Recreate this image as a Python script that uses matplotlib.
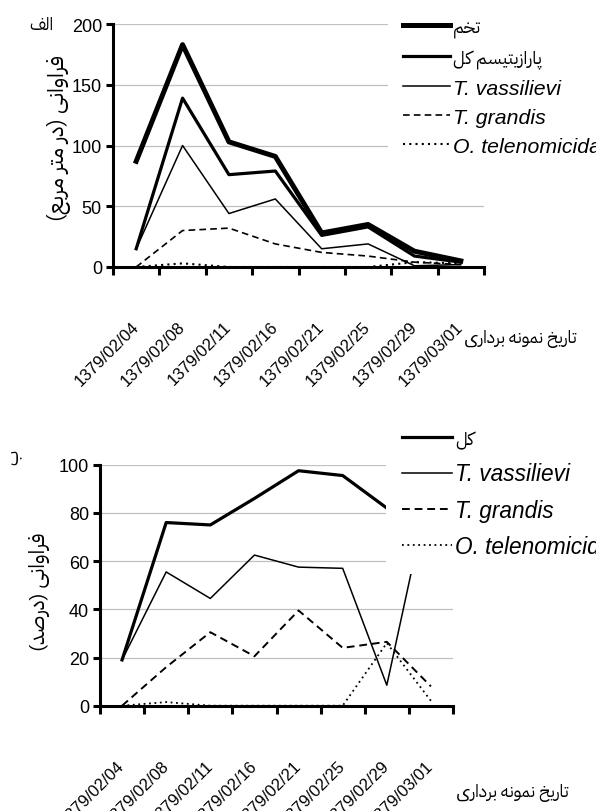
# two panel line chart: abundance per m2 and percent parasitism
import matplotlib
matplotlib.use('Agg')
import matplotlib.pyplot as plt
import numpy as np
from matplotlib import font_manager
from matplotlib.ft2font import FT2Font

# sampling dates
dates = ['1379/02/04', '1379/02/08', '1379/02/11', '1379/02/16',
         '1379/02/21', '1379/02/25', '1379/02/29', '1379/03/01']

# top panel, per square metre
egg = [87, 183, 103, 91, 28, 35, 13, 5]
para_total = [15, 139, 76, 79, 26, 33, 9, 4]
vass = [15, 100, 44, 56, 15, 19, 1, 2]
grandis = [0, 30, 32, 19, 12, 9, 4, 2]
teleno = [0, 3, 0, 0, 0, 0, 4, 3]

# bottom panel, percent
b_total = [19, 76, 75, 86, 97.5, 95.5, 82, 100]
b_vass = [19, 55.5, 44.5, 62.5, 57.5, 57, 8.5, 93]
b_grandis = [0, 16, 30.5, 20.5, 39.5, 24, 26.5, 8]
b_teleno = [0, 1.5, 0, 0, 0, 0, 26, 2]

# fonts: any arabic family first, dejavu has the basic arabic forms
arabic_fams = sorted({f.name for f in font_manager.fontManager.ttflist
                      if 'Arabic' in f.name or 'Naskh' in f.name})
PERSIAN = arabic_fams + ['DejaVu Sans']
LATIN = ['Liberation Sans', 'DejaVu Sans']
plt.rcParams['font.family'] = LATIN

cmap = set()
for fam in PERSIAN:
    path = font_manager.findfont(font_manager.FontProperties(family=fam))
    cmap |= set(FT2Font(path).get_charmap())

# matplotlib has no arabic shaping, so pick presentation forms by hand
# and put the letters in visual (right to left) order
FORMS = {
    'ا': ('\uFE8D', '\uFE8E'), 'د': ('\uFEA9', '\uFEAA'),
    'ر': ('\uFEAD', '\uFEAE'), 'ز': ('\uFEAF', '\uFEB0'),
    'و': ('\uFEED', '\uFEEE'),
    'ب': ('\uFE8F', '\uFE90', '\uFE91', '\uFE92'),
    'پ': ('\uFB56', '\uFB57', '\uFB58', '\uFB59'),
    'ت': ('\uFE95', '\uFE96', '\uFE97', '\uFE98'),
    'خ': ('\uFEA5', '\uFEA6', '\uFEA7', '\uFEA8'),
    'س': ('\uFEB1', '\uFEB2', '\uFEB3', '\uFEB4'),
    'ص': ('\uFEB9', '\uFEBA', '\uFEBB', '\uFEBC'),
    'ع': ('\uFEC9', '\uFECA', '\uFECB', '\uFECC'),
    'ف': ('\uFED1', '\uFED2', '\uFED3', '\uFED4'),
    'ک': ('\uFB8E', '\uFB8F', '\uFB90', '\uFB91'),
    'ل': ('\uFEDD', '\uFEDE', '\uFEDF', '\uFEE0'),
    'م': ('\uFEE1', '\uFEE2', '\uFEE3', '\uFEE4'),
    'ن': ('\uFEE5', '\uFEE6', '\uFEE7', '\uFEE8'),
    'ه': ('\uFEE9', '\uFEEA', '\uFEEB', '\uFEEC'),
    'ی': ('\uFBFC', '\uFBFD', '\uFBFE', '\uFBFF'),
}
# look-alike forms when the persian ones are missing from the font
SUB = {'\uFB56': '\u067E', '\uFB57': '\u067E', '\uFB58': '\u067E', '\uFB59': '\u067E',
       '\uFB8E': '\u06A9', '\uFB8F': '\u06A9', '\uFB90': '\uFEDB', '\uFB91': '\uFEDC',
       '\uFBFC': '\uFEEF', '\uFBFD': '\uFEF0', '\uFBFE': '\uFEF3', '\uFBFF': '\uFEF4'}


def fa(s):
    out = []
    for i, ch in enumerate(s):
        f = FORMS.get(ch)
        if f is None:
            out.append(ch)
            continue
        prev = s[i - 1] if i > 0 else ''
        nxt = s[i + 1] if i + 1 < len(s) else ''
        jp = prev in FORMS and len(FORMS[prev]) == 4
        jn = len(f) == 4 and nxt in FORMS
        g = f[{(0, 0): 0, (1, 0): 1, (0, 1): 2, (1, 1): 3}[(jp, jn)]]
        if ord(g) not in cmap:
            g = SUB.get(g, g)
        out.append(g)
    mirror = {'(': ')', ')': '('}
    return ''.join(mirror.get(c, c) for c in reversed(out))


W, H = 596, 812
fig = plt.figure(figsize=(W / 100, H / 100), dpi=100)

dash = (0, (4, 2.5))
dot = (0, (1, 2))


def style_axes(ax, ymax, ystep):
    x = np.arange(len(dates))
    ax.set_xlim(-0.5, len(dates) - 0.5)
    ax.set_ylim(0, ymax)
    ax.set_yticks(np.arange(0, ymax + 1, ystep))
    ax.set_xticks(np.arange(-0.5, len(dates)), labels=[])
    ax.set_xticks(x, labels=dates, minor=True)
    ax.tick_params(axis='x', which='major', direction='out', length=6, width=2.2)
    ax.tick_params(axis='x', which='minor', length=0, pad=41, labelsize=12)
    ax.tick_params(axis='y', direction='out', length=5, width=2.2, pad=3, labelsize=13)
    for lab in ax.get_xticklabels(minor=True):
        lab.set_rotation(45)
        lab.set_rotation_mode('anchor')
        lab.set_ha('right')
        lab.set_va('center')
    for s in ['top', 'right']:
        ax.spines[s].set_visible(False)
    for s in ['left', 'bottom']:
        ax.spines[s].set_linewidth(2.2)
    ax.yaxis.grid(True, color='#c0c0c0', linewidth=0.9)
    ax.set_axisbelow(True)
    return x


def add_legend(ax, left, top, labels_fa, size, spacing):
    leg = fig.legend(*ax.get_legend_handles_labels(), loc='upper left',
                     bbox_to_anchor=(left / W, 1 - top / H), frameon=True,
                     facecolor='white', edgecolor='none', framealpha=1,
                     fontsize=size, handlelength=2.2, handletextpad=0.15,
                     labelspacing=spacing, borderpad=0.7, borderaxespad=0)
    for t in leg.get_texts():
        if t.get_text() in labels_fa:
            t.set_fontfamily(PERSIAN)
            t.set_fontsize(13)
        else:
            t.set_fontstyle('italic')
    return leg


# top panel
ax1 = fig.add_axes([113 / W, 1 - 268 / H, 371 / W, 243 / H])
x = style_axes(ax1, 200, 50)
ax1.plot(x, egg, color='black', lw=3.6, label=fa('تخم'))
ax1.plot(x, para_total, color='black', lw=2.3, label=fa('پارازیتیسم کل'))
ax1.plot(x, vass, color='black', lw=1.1, label='T. vassilievi')
ax1.plot(x, grandis, color='black', lw=1.2, linestyle=dash, label='T. grandis')
ax1.plot(x, teleno, color='black', lw=1.5, linestyle=dot, label='O. telenomicida')
add_legend(ax1, 388, 4, [fa('تخم'), fa('پارازیتیسم کل')], 15.3, 0.47)

# bottom panel
ax2 = fig.add_axes([100 / W, 1 - 706.7 / H, 353 / W, 241 / H])
x = style_axes(ax2, 100, 20)
ax2.plot(x, b_total, color='black', lw=2.3, label=fa('کل'))
ax2.plot(x, b_vass, color='black', lw=1.1, label='T. vassilievi')
ax2.plot(x, b_grandis, color='black', lw=1.4, linestyle=dash, label='T. grandis')
ax2.plot(x, b_teleno, color='black', lw=1.3, linestyle=dot, label='O. telenomicida')
add_legend(ax2, 386, 414, [fa('کل')], 16.3, 0.58)

# persian captions
fig.text(41 / W, 1 - 25 / H, fa('الف'), family=PERSIAN, fontsize=12,
         ha='center', va='center')
fig.text(58 / W, 1 - 138 / H, fa('فراوانی (در متر مربع)'), family=PERSIAN,
         fontsize=16, rotation=90, ha='center', va='center')
fig.text(464 / W, 1 - 339 / H, fa('تاریخ نمونه برداری'), family=PERSIAN,
         fontsize=12.5, ha='left', va='center')

fig.text(14 / W, 1 - 457 / H, fa('ب'), family=PERSIAN, fontsize=13,
         rotation=90, ha='center', va='center')
fig.text(40 / W, 1 - 592 / H, fa('فراوانی (درصد)'), family=PERSIAN,
         fontsize=15, rotation=90, ha='center', va='center')
fig.text(456 / W, 1 - 793 / H, fa('تاریخ نمونه برداری'), family=PERSIAN,
         fontsize=12.5, ha='left', va='center')

fig.savefig('out.png', dpi=100)
